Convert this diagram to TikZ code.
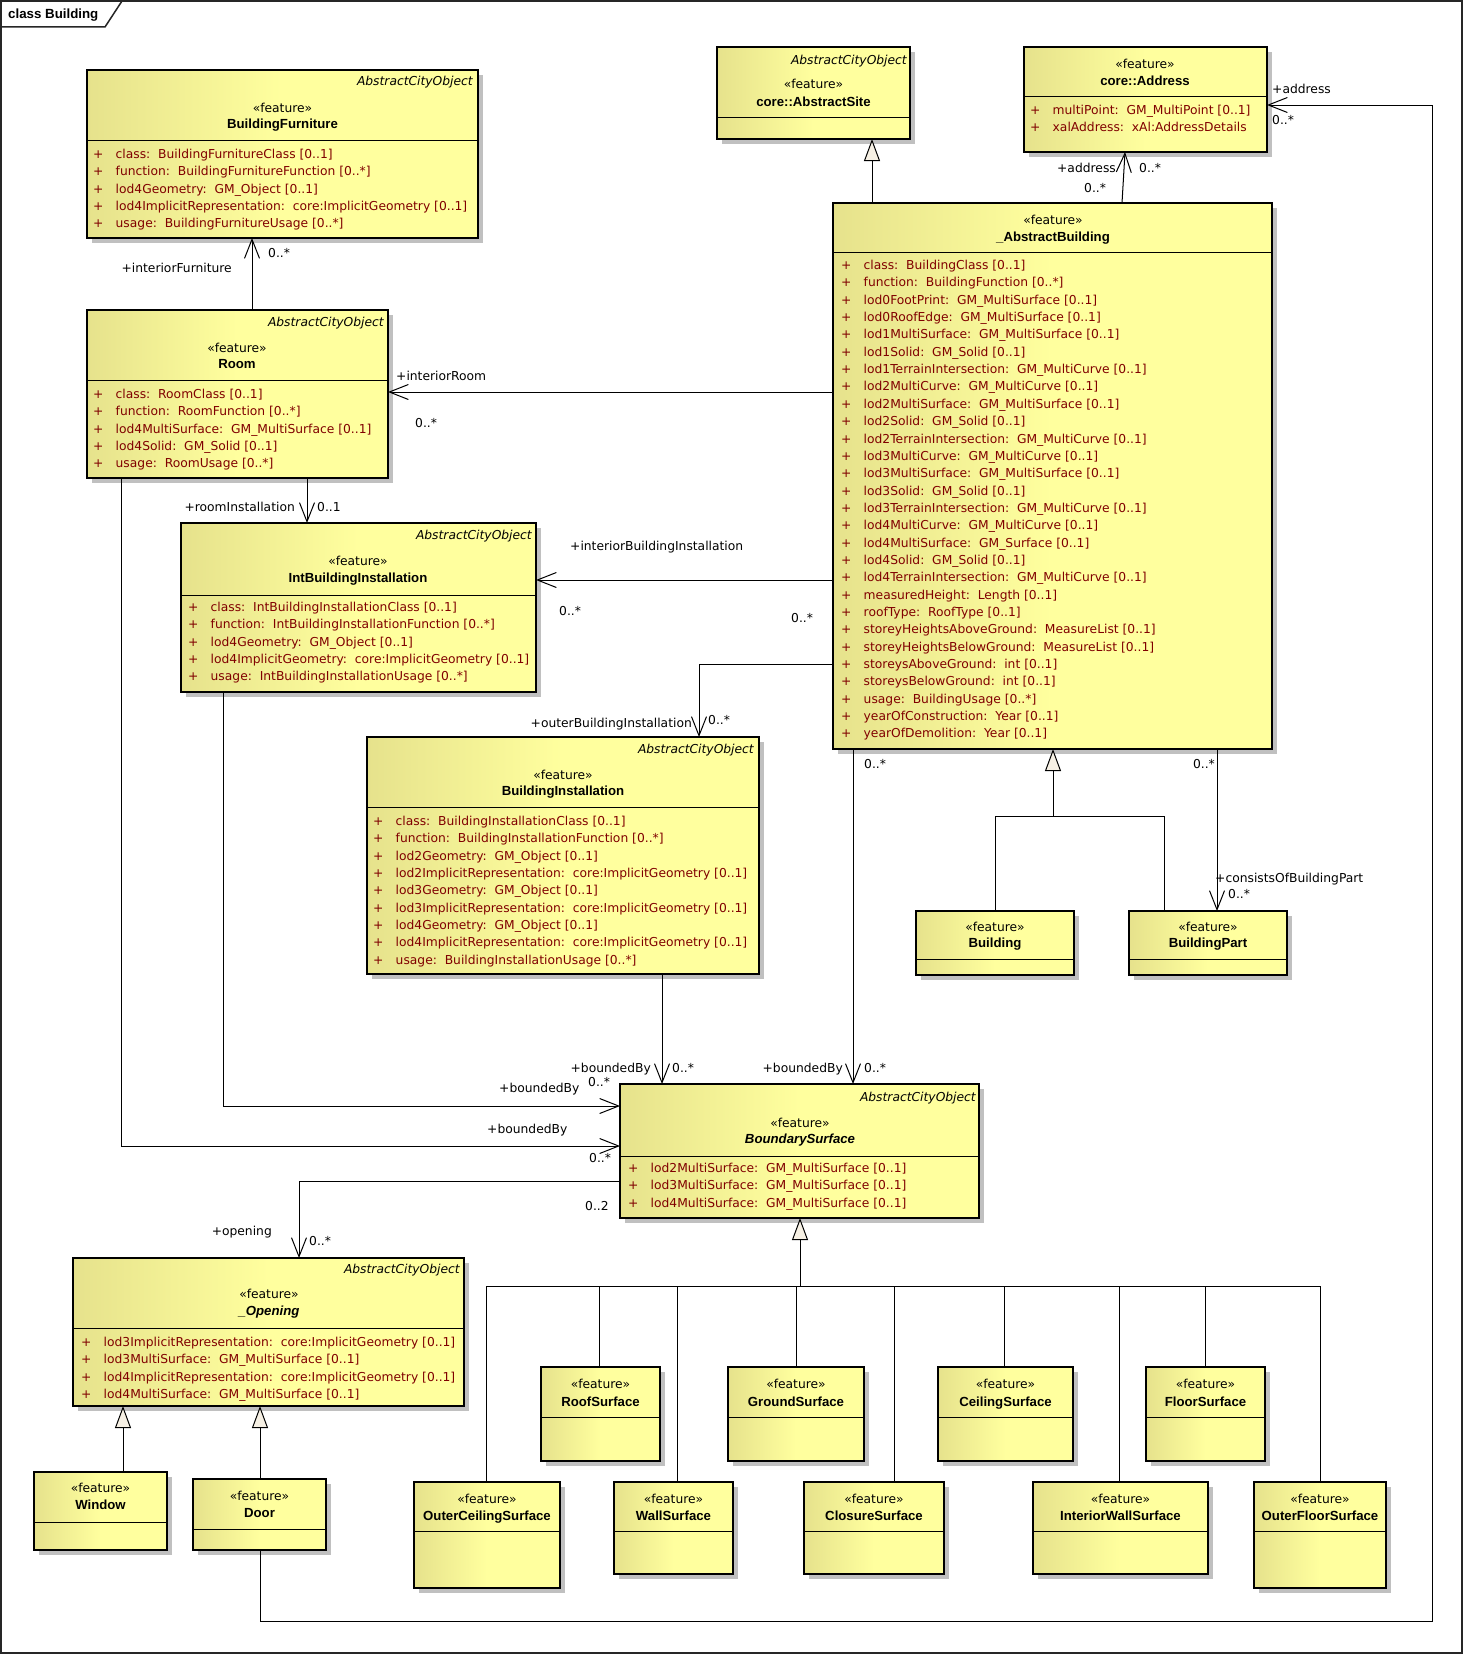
\documentclass[tikz,border=0pt]{standalone}
\usepackage{fontspec}
\setmainfont{DejaVu Sans}
\newfontfamily\namefont{Liberation Sans}
\usetikzlibrary{arrows.meta,shadows}
\definecolor{boxL}{RGB}{230,226,140}
\definecolor{boxR}{RGB}{255,255,158}
\definecolor{attrc}{RGB}{128,0,0}
\definecolor{shadowc}{RGB}{192,192,192}
\definecolor{triFill}{RGB}{246,240,228}
\newcommand\fs{\fontsize{12.3pt}{14pt}\selectfont}
\newcommand\fsb{\fontsize{13.2pt}{15pt}\selectfont\namefont\bfseries}
\newcommand\umlbox[6]{%
  \node[cls, minimum width={#4-#2}, minimum height={#5-#3}, anchor=north west] (#1) at (#2,#3) {};
  \draw[sepline] (#1.west |- 0,#6) -- (#1.east |- 0,#6);}
\newcommand\umltitle[5]{%
  \node[stereo] (#1-st) at (#2,#3) {«feature»};
  \node[cname] (#1-nm) at (#2,#4) {#5};}
\newcommand\acolabel[3]{\node[aco] (#1-aco) at (#2,#3) {AbstractCityObject};}
\newcommand\attrlist[4]{%
  \foreach \myitem [count=\myi] in {#4}{%
    \node[attr] (#1-a\myi) at (#2,{#3+17.35*(\myi-1)}) {\makebox[22.5pt][l]{+}\myitem};
  }}
\begin{document}
\begin{tikzpicture}[x=1pt,y=-1pt,
  cls/.style={draw=black, line width=1.3pt, inner sep=0pt, outer sep=0pt,
    left color=boxL, right color=boxR, middle color=boxR,
    drop shadow={opacity=1, fill=shadowc, shadow xshift=5pt, shadow yshift=-5pt}},
  sepline/.style={draw=black, line width=1pt},
  txt/.style={inner sep=0pt, text height=9pt, text depth=0pt, font=\fs},
  aco/.style={txt, font=\fs\itshape, anchor=east},
  stereo/.style={txt, anchor=center},
  cname/.style={txt, font=\fsb, anchor=center},
  attr/.style={txt, anchor=west, text=attrc},
  lab/.style={txt},
  conn/.style={draw=black, line width=1pt},
  assoc/.style={conn, -{Straight Barb[length=19pt,width=15pt]}},
  gen/.style={conn, -{Triangle[length=22pt,width=16pt,fill=triFill]}},
  frame/.style={draw=black!85, line width=1.5pt}]
\useasboundingbox (0,0) rectangle (1464,1654);
\fill[white] (0,0) rectangle (1464,1654);
% frame
\draw[frame] (1,1) rectangle (1462,1653);
\draw[frame] (1,27) -- (105,27) -- (122,1);
\node[txt, font=\fontsize{13.3pt}{15pt}\selectfont\namefont\bfseries, anchor=west] (title) at (8,14) {class Building};

% boxes
\umlbox{bf}{87}{70}{478}{238}{140}
\umlbox{site}{717}{47}{910}{139}{117}
\umlbox{addr}{1024}{47}{1267}{152}{96}
\umlbox{ab}{833}{203}{1272}{749}{252}
\umlbox{room}{87}{310}{388}{478}{380}
\umlbox{ibi}{181}{523}{536}{692}{595}
\umlbox{bi}{367}{737}{759}{974}{807}
\umlbox{bs}{620}{1084}{979}{1218}{1156}
\umlbox{open}{73}{1258}{464}{1406}{1328}
\umlbox{win}{34}{1472}{167}{1550}{1522}
\umlbox{door}{193}{1479}{326}{1550}{1529}
\umlbox{building}{916}{911}{1074}{975}{959}
\umlbox{bpart}{1129}{911}{1287}{975}{959}
\umlbox{roof}{541}{1367}{660}{1461}{1417}
\umlbox{ground}{728}{1367}{864}{1461}{1417}
\umlbox{ceiling}{938}{1367}{1073}{1461}{1417}
\umlbox{floor}{1146}{1367}{1265}{1461}{1417}
\umlbox{oceil}{414}{1482}{560}{1588}{1531}
\umlbox{wall}{614}{1482}{733}{1574}{1531}
\umlbox{closure}{804}{1482}{944}{1574}{1531}
\umlbox{iwall}{1033}{1482}{1208}{1574}{1531}
\umlbox{ofloor}{1254}{1482}{1386}{1588}{1531}

% connectors (over the shadows, ending at the box borders)
\draw[assoc] (252,0 |- room.north) -- (252,0 |- bf.south);
\draw[gen] (872,0 |- ab.north) -- (872,0 |- site.south);
\draw[assoc] (1122,0 |- ab.north) -- (1125,0 |- addr.south);
\draw[assoc] (260,0 |- door.south) |- (1432,1621) -- (1432,105) -- (addr.east |- 0,105);
\draw[assoc] (ab.west |- 0,392) -- (room.east |- 0,392);
\draw[assoc] (ab.west |- 0,580) -- (ibi.east |- 0,580);
\draw[assoc] (ab.west |- 0,664) -| (699,0 |- bi.north);
\draw[assoc] (307,0 |- room.south) -- (307,0 |- ibi.north);
\draw[assoc] (853,0 |- ab.south) -- (853,0 |- bs.north);
\draw[assoc] (662,0 |- bi.south) -- (662,0 |- bs.north);
\draw[assoc] (223,0 |- ibi.south) |- (bs.west |- 0,1106);
\draw[assoc] (121,0 |- room.south) |- (bs.west |- 0,1146);
\draw[assoc] (bs.west |- 0,1181) -| (299,0 |- open.north);
\coordinate (abj) at (1053,816);
\draw[conn] (995,0 |- building.north) |- (1164,0 |- abj) -- (1164,0 |- bpart.north);
\draw[gen] (abj) -- (1053,0 |- ab.south);
\draw[assoc] (1217,0 |- ab.south) -- (1217,0 |- bpart.north);
\draw[gen] (123,0 |- win.north) -- (123,0 |- open.south);
\draw[gen] (260,0 |- door.north) -- (260,0 |- open.south);
\coordinate (bsj) at (800,1286);
\draw[conn] (486,0 |- oceil.north) |- (1320,0 |- bsj) -- (1320,0 |- ofloor.north);
\draw[conn] (599,0 |- roof.north) -- (599,0 |- bsj);
\draw[conn] (677,0 |- wall.north) -- (677,0 |- bsj);
\draw[conn] (796,0 |- ground.north) -- (796,0 |- bsj);
\draw[conn] (894,0 |- closure.north) -- (894,0 |- bsj);
\draw[conn] (1004,0 |- ceiling.north) -- (1004,0 |- bsj);
\draw[conn] (1119,0 |- iwall.north) -- (1119,0 |- bsj);
\draw[conn] (1205,0 |- floor.north) -- (1205,0 |- bsj);
\draw[gen] (bsj) -- (800,0 |- bs.south);

% titles
\acolabel{bf}{473}{81}
\acolabel{site}{907}{60}
\acolabel{room}{384}{322}
\acolabel{ibi}{532}{535}
\acolabel{bi}{754}{749}
\acolabel{bs}{976}{1097}
\acolabel{open}{460}{1269}
\umltitle{bf}{282.5}{108}{124}{BuildingFurniture}
\umltitle{site}{813.5}{84}{102}{core::AbstractSite}
\umltitle{addr}{1145}{64}{81}{core::Address}
\umltitle{ab}{1053}{220}{237}{\_AbstractBuilding}
\umltitle{room}{237}{348}{364}{Room}
\umltitle{ibi}{358}{561}{578}{IntBuildingInstallation}
\umltitle{bi}{563}{775}{791}{BuildingInstallation}
\umltitle{bs}{800}{1123}{1139}{\itshape BoundarySurface}
\umltitle{open}{269}{1294}{1311}{\itshape \_Opening}
\umltitle{win}{100.5}{1488}{1505}{Window}
\umltitle{door}{259.5}{1496}{1513}{Door}
\umltitle{building}{995}{927}{943}{Building}
\umltitle{bpart}{1208}{927}{943}{BuildingPart}
\umltitle{roof}{600.5}{1384}{1402}{RoofSurface}
\umltitle{ground}{796}{1384}{1402}{GroundSurface}
\umltitle{ceiling}{1005.5}{1384}{1402}{CeilingSurface}
\umltitle{floor}{1205.5}{1384}{1402}{FloorSurface}
\umltitle{oceil}{487}{1499}{1516}{OuterCeilingSurface}
\umltitle{wall}{673.5}{1499}{1516}{WallSurface}
\umltitle{closure}{874}{1499}{1516}{ClosureSurface}
\umltitle{iwall}{1120.5}{1499}{1516}{InteriorWallSurface}
\umltitle{ofloor}{1320}{1499}{1516}{OuterFloorSurface}

% attributes
\attrlist{bf}{93}{154}{{class:~~BuildingFurnitureClass [0..1]},{function:~~BuildingFurnitureFunction [0..*]},{lod4Geometry:~~GM\_Object [0..1]},{lod4ImplicitRepresentation:~~core:ImplicitGeometry [0..1]},{usage:~~BuildingFurnitureUsage [0..*]}}
\attrlist{addr}{1030}{110}{{multiPoint:~~GM\_MultiPoint [0..1]},{xalAddress:~~xAl:AddressDetails}}
\attrlist{ab}{841}{265}{{class:~~BuildingClass [0..1]},{function:~~BuildingFunction [0..*]},{lod0FootPrint:~~GM\_MultiSurface [0..1]},{lod0RoofEdge:~~GM\_MultiSurface [0..1]},{lod1MultiSurface:~~GM\_MultiSurface [0..1]},{lod1Solid:~~GM\_Solid [0..1]},{lod1TerrainIntersection:~~GM\_MultiCurve [0..1]},{lod2MultiCurve:~~GM\_MultiCurve [0..1]},{lod2MultiSurface:~~GM\_MultiSurface [0..1]},{lod2Solid:~~GM\_Solid [0..1]},{lod2TerrainIntersection:~~GM\_MultiCurve [0..1]},{lod3MultiCurve:~~GM\_MultiCurve [0..1]},{lod3MultiSurface:~~GM\_MultiSurface [0..1]},{lod3Solid:~~GM\_Solid [0..1]},{lod3TerrainIntersection:~~GM\_MultiCurve [0..1]},{lod4MultiCurve:~~GM\_MultiCurve [0..1]},{lod4MultiSurface:~~GM\_Surface [0..1]},{lod4Solid:~~GM\_Solid [0..1]},{lod4TerrainIntersection:~~GM\_MultiCurve [0..1]},{measuredHeight:~~Length [0..1]},{roofType:~~RoofType [0..1]},{storeyHeightsAboveGround:~~MeasureList [0..1]},{storeyHeightsBelowGround:~~MeasureList [0..1]},{storeysAboveGround:~~int [0..1]},{storeysBelowGround:~~int [0..1]},{usage:~~BuildingUsage [0..*]},{yearOfConstruction:~~Year [0..1]},{yearOfDemolition:~~Year [0..1]}}
\attrlist{room}{93}{394}{{class:~~RoomClass [0..1]},{function:~~RoomFunction [0..*]},{lod4MultiSurface:~~GM\_MultiSurface [0..1]},{lod4Solid:~~GM\_Solid [0..1]},{usage:~~RoomUsage [0..*]}}
\attrlist{ibi}{188}{607}{{class:~~IntBuildingInstallationClass [0..1]},{function:~~IntBuildingInstallationFunction [0..*]},{lod4Geometry:~~GM\_Object [0..1]},{lod4ImplicitGeometry:~~core:ImplicitGeometry [0..1]},{usage:~~IntBuildingInstallationUsage [0..*]}}
\attrlist{bi}{373}{821}{{class:~~BuildingInstallationClass [0..1]},{function:~~BuildingInstallationFunction [0..*]},{lod2Geometry:~~GM\_Object [0..1]},{lod2ImplicitRepresentation:~~core:ImplicitGeometry [0..1]},{lod3Geometry:~~GM\_Object [0..1]},{lod3ImplicitRepresentation:~~core:ImplicitGeometry [0..1]},{lod4Geometry:~~GM\_Object [0..1]},{lod4ImplicitRepresentation:~~core:ImplicitGeometry [0..1]},{usage:~~BuildingInstallationUsage [0..*]}}
\attrlist{bs}{628}{1168}{{lod2MultiSurface:~~GM\_MultiSurface [0..1]},{lod3MultiSurface:~~GM\_MultiSurface [0..1]},{lod4MultiSurface:~~GM\_MultiSurface [0..1]}}
\attrlist{open}{81}{1342}{{lod3ImplicitRepresentation:~~core:ImplicitGeometry [0..1]},{lod3MultiSurface:~~GM\_MultiSurface [0..1]},{lod4ImplicitRepresentation:~~core:ImplicitGeometry [0..1]},{lod4MultiSurface:~~GM\_MultiSurface [0..1]}}

% connector labels
\node[lab, anchor=east] (l-if) at (232,268) {+interiorFurniture};
\node[lab, anchor=west] (l-if-m) at (268,253) {0..*};
\node[lab, anchor=west] (l-ir) at (396,376) {+interiorRoom};
\node[lab, anchor=west] (l-ir-m) at (415,423) {0..*};
\node[lab, anchor=east] (l-ri) at (295,507) {+roomInstallation};
\node[lab, anchor=west] (l-ri-m) at (317,507) {0..1};
\node[lab, anchor=west] (l-ibi) at (570,546) {+interiorBuildingInstallation};
\node[lab, anchor=west] (l-ibi-m) at (559,611) {0..*};
\node[lab, anchor=west] (l-ibi-m2) at (791,618) {0..*};
\node[lab, anchor=east] (l-obi) at (692,723) {+outerBuildingInstallation};
\node[lab, anchor=west] (l-obi-m) at (708,720) {0..*};
\node[lab, anchor=east] (l-ad1) at (1116,168) {+address};
\node[lab, anchor=west] (l-ad1-m) at (1139,168) {0..*};
\node[lab, anchor=west] (l-ad1-m2) at (1084,188) {0..*};
\node[lab, anchor=west] (l-ad2) at (1272,89) {+address};
\node[lab, anchor=west] (l-ad2-m) at (1272,120) {0..*};
\node[lab, anchor=west] (l-ab-m1) at (864,764) {0..*};
\node[lab, anchor=east] (l-ab-m2) at (1215,764) {0..*};
\node[lab, anchor=west] (l-cbp) at (1215,878) {+consistsOfBuildingPart};
\node[lab, anchor=west] (l-cbp-m) at (1228,894) {0..*};
\node[lab, anchor=east] (l-bb1) at (651,1068) {+boundedBy};
\node[lab, anchor=west] (l-bb1-m) at (672,1068) {0..*};
\node[lab, anchor=east] (l-bb2) at (843,1068) {+boundedBy};
\node[lab, anchor=west] (l-bb2-m) at (864,1068) {0..*};
\node[lab, anchor=west] (l-bb3) at (499,1088) {+boundedBy};
\node[lab, anchor=west] (l-bb3-m) at (588,1082) {0..*};
\node[lab, anchor=west] (l-bb4) at (487,1129) {+boundedBy};
\node[lab, anchor=west] (l-bb4-m) at (589,1158) {0..*};
\node[lab, anchor=west] (l-op-m0) at (585,1206) {0..2};
\node[lab, anchor=east] (l-op) at (272,1231) {+opening};
\node[lab, anchor=west] (l-op-m) at (309,1241) {0..*};
\end{tikzpicture}
\end{document}
